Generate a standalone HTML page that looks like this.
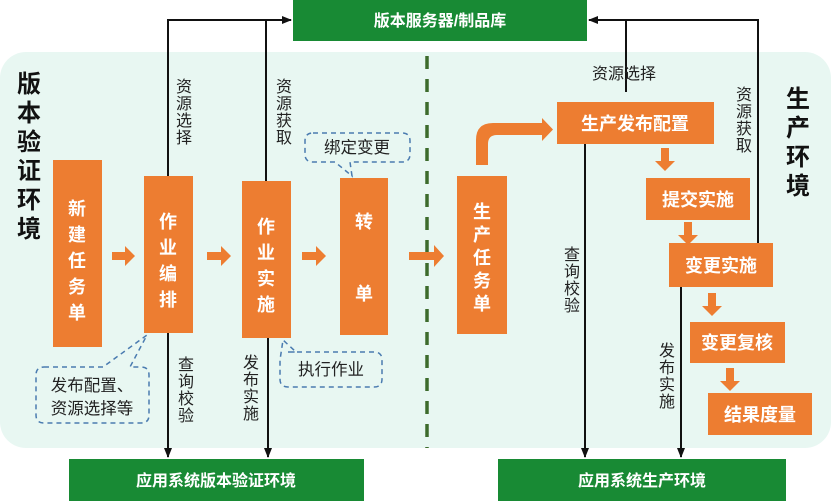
<!DOCTYPE html>
<html><head><meta charset="utf-8"><style>
html,body{margin:0;padding:0;background:#fff}
svg{display:block}
text{font-family:"Liberation Sans","Noto Sans CJK SC",sans-serif}
.w{fill:#fff;font-weight:bold;font-size:18px}
.g{fill:#fff;font-weight:bold;font-size:16px}
.l{fill:#222;font-size:16px}
.c{fill:#222;font-size:16.5px}
.k{fill:#111;font-weight:bold;font-size:24px}
</style></head><body>
<svg width="831" height="501" viewBox="0 0 831 501" xmlns="http://www.w3.org/2000/svg">
<defs>
<marker id="ah" markerWidth="10" markerHeight="8" refX="9" refY="4" orient="auto" markerUnits="userSpaceOnUse">
<path d="M0,0 L10,4 L0,8 Z" fill="#111"/></marker>
</defs>
<rect x="0" y="52" width="831" height="396" rx="26" fill="#e8f7f2"/>
<line x1="427" y1="56" x2="427" y2="448" stroke="#3d6b2c" stroke-width="3.5" stroke-dasharray="13,10"/>
<rect x="293" y="0" width="294" height="41" fill="#188a34"/>
<text class="g" x="440" y="26" text-anchor="middle">版本服务器/制品库</text>
<rect x="69" y="459" width="295" height="42" fill="#188a34"/>
<text class="g" x="216" y="486" text-anchor="middle">应用系统版本验证环境</text>
<rect x="498" y="459" width="288" height="42" fill="#188a34"/>
<text class="g" x="642" y="486" text-anchor="middle">应用系统生产环境</text>
<text class="k" x="29" y="92" text-anchor="middle"><tspan x="29">版</tspan><tspan x="29" dy="29">本</tspan><tspan x="29" dy="29">验</tspan><tspan x="29" dy="29">证</tspan><tspan x="29" dy="29">环</tspan><tspan x="29" dy="29">境</tspan></text>
<text class="k" x="798" y="107" text-anchor="middle"><tspan x="798">生</tspan><tspan x="798" dy="29">产</tspan><tspan x="798" dy="29">环</tspan><tspan x="798" dy="29">境</tspan></text>
<g stroke="#111" stroke-width="2" fill="none">
<polyline points="168,176 168,20 291,20" marker-end="url(#ah)"/>
<line x1="266" y1="181" x2="266" y2="20"/>
<polyline points="758,243 758,20 589,20" marker-end="url(#ah)"/>
<line x1="626" y1="92" x2="626" y2="20"/>
<line x1="168" y1="333" x2="168" y2="457" marker-end="url(#ah)"/>
<line x1="268" y1="338" x2="268" y2="457" marker-end="url(#ah)"/>
<line x1="585" y1="144" x2="585" y2="457" marker-end="url(#ah)"/>
<line x1="681" y1="287" x2="681" y2="457" marker-end="url(#ah)"/>
</g>
<g class="l" text-anchor="middle">
<text x="184" y="92"><tspan x="184">资</tspan><tspan x="184" dy="17">源</tspan><tspan x="184" dy="17">选</tspan><tspan x="184" dy="17">择</tspan></text>
<text x="284" y="92"><tspan x="284">资</tspan><tspan x="284" dy="17">源</tspan><tspan x="284" dy="17">获</tspan><tspan x="284" dy="17">取</tspan></text>
<text x="744" y="100"><tspan x="744">资</tspan><tspan x="744" dy="17">源</tspan><tspan x="744" dy="17">获</tspan><tspan x="744" dy="17">取</tspan></text>
<text x="624" y="79">资源选择</text>
<text x="186" y="370"><tspan x="186">查</tspan><tspan x="186" dy="17">询</tspan><tspan x="186" dy="17">校</tspan><tspan x="186" dy="17">验</tspan></text>
<text x="251" y="368"><tspan x="251">发</tspan><tspan x="251" dy="17">布</tspan><tspan x="251" dy="17">实</tspan><tspan x="251" dy="17">施</tspan></text>
<text x="572" y="260"><tspan x="572">查</tspan><tspan x="572" dy="17">询</tspan><tspan x="572" dy="17">校</tspan><tspan x="572" dy="17">验</tspan></text>
<text x="667" y="356"><tspan x="667">发</tspan><tspan x="667" dy="17">布</tspan><tspan x="667" dy="17">实</tspan><tspan x="667" dy="17">施</tspan></text>
</g>
<g fill="#ed7d31">
<rect x="53" y="160" width="49" height="187"/>
<rect x="144" y="176" width="49" height="157"/>
<rect x="242" y="181" width="49" height="157"/>
<rect x="340" y="178" width="48" height="157"/>
<rect x="457" y="176" width="50" height="158"/>
<rect x="557" y="102" width="157" height="42"/>
<rect x="646" y="178" width="104" height="42"/>
<rect x="669" y="243" width="104" height="44"/>
<rect x="690" y="322" width="95" height="41"/>
<rect x="708" y="393" width="104" height="42"/>
<path d="M112,252 h13 v-6 l10,10 l-10,10 v-6 h-13 z"/>
<path d="M207,252 h14 v-6 l10,10 l-10,10 v-6 h-14 z"/>
<path d="M302,252 h14 v-6 l10,10 l-10,10 v-6 h-14 z"/>
<path d="M409,252 h25 v-7 l10,11 l-10,11 v-7 h-25 z"/>
<path d="M661,148 h8 v13 h6 l-10,10 l-10,-10 h6 z"/>
<path d="M684,222 h8 v13 h6 l-10,10 l-10,-10 h6 z"/>
<path d="M708,293 h8 v13 h6 l-10,10 l-10,-10 h6 z"/>
<path d="M726,368 h8 v13 h6 l-10,10 l-10,-10 h6 z"/>
<path d="M476,165 V140 Q476,123 493,123 H542 V118 L553,129.5 L542,141 V135 H497 Q488,135 488,144 V165 Z"/>
</g>
<g class="w" text-anchor="middle">
<text x="77" y="215"><tspan x="77">新</tspan><tspan x="77" dy="26">建</tspan><tspan x="77" dy="26">任</tspan><tspan x="77" dy="26">务</tspan><tspan x="77" dy="26">单</tspan></text>
<text x="168" y="228"><tspan x="168">作</tspan><tspan x="168" dy="26">业</tspan><tspan x="168" dy="26">编</tspan><tspan x="168" dy="26">排</tspan></text>
<text x="266" y="233"><tspan x="266">作</tspan><tspan x="266" dy="26">业</tspan><tspan x="266" dy="26">实</tspan><tspan x="266" dy="26">施</tspan></text>
<text x="364" y="228">转</text>
<text x="364" y="300">单</text>
<text x="482" y="218"><tspan x="482">生</tspan><tspan x="482" dy="23">产</tspan><tspan x="482" dy="23">任</tspan><tspan x="482" dy="23">务</tspan><tspan x="482" dy="23">单</tspan></text>
<text x="635" y="130">生产发布配置</text>
<text x="698" y="206">提交实施</text>
<text x="721" y="272">变更实施</text>
<text x="737" y="349">变更复核</text>
<text x="760" y="421">结果度量</text>
</g>
<g fill="none" stroke="#4a7bb0" stroke-width="1.5" stroke-dasharray="5,4">
<path d="M313,133 H402 Q410,133 410,141 V154 Q410,162 402,162 H350 L352,176 L335,162 H313 Q305,162 305,154 V141 Q305,133 313,133 Z"/>
<path d="M288,352 H374 Q382,352 382,360 V379 Q382,387 374,387 H288 Q280,387 280,379 V360 L283,340 L296,352 Z"/>
<path d="M44,367 H103 L147,335 L130,367 H141 Q149,367 149,375 V415 Q149,423 141,423 H44 Q36,423 36,415 V375 Q36,367 44,367 Z"/>
</g>
<g class="c" text-anchor="middle">
<text x="357" y="153">绑定变更</text>
<text x="331" y="375">执行作业</text>
<text x="92" y="391">发布配置、</text>
<text x="92" y="414">资源选择等</text>
</g>
</svg>
</body></html>
